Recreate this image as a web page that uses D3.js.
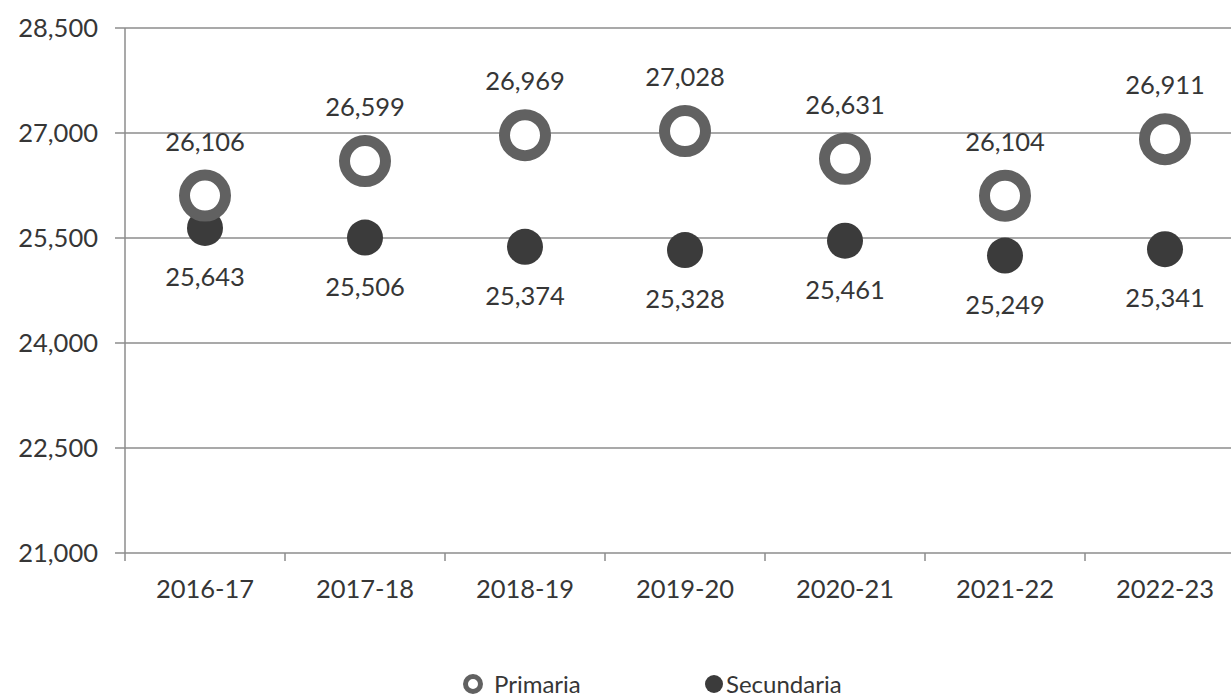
<!DOCTYPE html>
<html>
<head>
<meta charset="utf-8">
<script src="https://cdn.jsdelivr.net/npm/d3@7"></script>
<style>
  body { margin: 0; background: #fff; }
  text { font-family: Lato, "Noto Sans", sans-serif; fill: #363636; }
</style>
</head>
<body>
<div id="chart"></div>
<script>
const categories = ["2016-17", "2017-18", "2018-19", "2019-20", "2020-21", "2021-22", "2022-23"];
const primaria = [26106, 26599, 26969, 27028, 26631, 26104, 26911];
const secundaria = [25643, 25506, 25374, 25328, 25461, 25249, 25341];
const yTicks = [21000, 22500, 24000, 25500, 27000, 28500];

const W = 1231, H = 698;
const margin = { top: 28, left: 125, bottom: 145 };
const height = H - margin.top - margin.bottom;

const svg = d3.select("#chart").append("svg")
  .attr("width", W)
  .attr("height", H);

const x = d3.scaleBand()
  .domain(categories)
  .range([margin.left, margin.left + 160 * categories.length]);

const y = d3.scaleLinear()
  .domain([21000, 28500])
  .range([margin.top + height, margin.top]);

const fmt = d3.format(",");
const grid = "#8c8c8c";

// gridlines
svg.append("g")
  .selectAll("line")
  .data(yTicks)
  .enter()
  .append("line")
  .attr("x1", margin.left - 10)
  .attr("x2", W)
  .attr("y1", d => y(d))
  .attr("y2", d => y(d))
  .attr("stroke", grid)
  .attr("stroke-width", 1.5);

// y labels
svg.append("g")
  .selectAll("text")
  .data(yTicks)
  .enter()
  .append("text")
  .attr("x", margin.left - 27)
  .attr("y", d => y(d))
  .attr("dy", "0.36em")
  .attr("text-anchor", "end")
  .style("font-size", "25.5px")
  .text(d => fmt(d));

// y axis line
svg.append("line")
  .attr("x1", margin.left).attr("x2", margin.left)
  .attr("y1", y(28500)).attr("y2", y(21000) + 8)
  .attr("stroke", grid)
  .attr("stroke-width", 1.5);

// x ticks between categories
svg.append("g")
  .selectAll("line")
  .data(categories.slice(1))
  .enter()
  .append("line")
  .attr("x1", d => x(d)).attr("x2", d => x(d))
  .attr("y1", y(21000)).attr("y2", y(21000) + 8)
  .attr("stroke", grid)
  .attr("stroke-width", 1.5);

// x labels
svg.append("g")
  .selectAll("text")
  .data(categories)
  .enter()
  .append("text")
  .attr("x", d => x(d) + x.bandwidth() / 2)
  .attr("y", y(21000) + 45)
  .attr("text-anchor", "middle")
  .style("font-size", "25.5px")
  .text(d => d);

// Secundaria dots
svg.append("g")
  .selectAll("circle")
  .data(secundaria)
  .enter()
  .append("circle")
  .attr("cx", (d, i) => x(categories[i]) + x.bandwidth() / 2)
  .attr("cy", d => y(d))
  .attr("r", 18)
  .attr("fill", "#3b3b3b");

// Primaria rings
svg.append("g")
  .selectAll("circle")
  .data(primaria)
  .enter()
  .append("circle")
  .attr("cx", (d, i) => x(categories[i]) + x.bandwidth() / 2)
  .attr("cy", d => y(d))
  .attr("r", 20.5)
  .attr("fill", "#fff")
  .attr("stroke", "#616161")
  .attr("stroke-width", 11);

// value labels
svg.append("g")
  .selectAll("text")
  .data(primaria)
  .enter()
  .append("text")
  .attr("x", (d, i) => x(categories[i]) + x.bandwidth() / 2)
  .attr("y", d => y(d) - 45)
  .attr("text-anchor", "middle")
  .style("font-size", "25.5px")
  .text(d => fmt(d));

svg.append("g")
  .selectAll("text")
  .data(secundaria)
  .enter()
  .append("text")
  .attr("x", (d, i) => x(categories[i]) + x.bandwidth() / 2)
  .attr("y", d => y(d) + 58)
  .attr("text-anchor", "middle")
  .style("font-size", "25.5px")
  .text(d => fmt(d));

// legend
const legend = svg.append("g").attr("transform", "translate(0,684)");
legend.append("circle")
  .attr("cx", 473).attr("cy", 0).attr("r", 7.5)
  .attr("fill", "#fff").attr("stroke", "#616161").attr("stroke-width", 5);
legend.append("text")
  .attr("x", 494).attr("y", 0).attr("dy", "0.36em")
  .style("font-size", "24px")
  .text("Primaria");
legend.append("circle")
  .attr("cx", 714).attr("cy", 0).attr("r", 9)
  .attr("fill", "#3b3b3b");
legend.append("text")
  .attr("x", 726).attr("y", 0).attr("dy", "0.36em")
  .style("font-size", "24px")
  .text("Secundaria");
</script>
</body>
</html>
